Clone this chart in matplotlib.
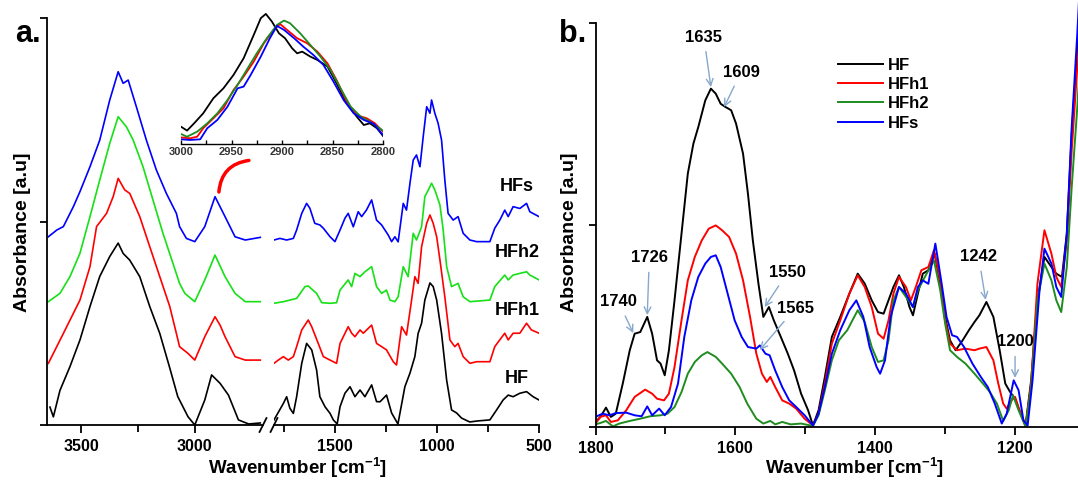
import matplotlib
matplotlib.use("Agg")
import matplotlib.pyplot as plt
from matplotlib.ticker import FixedLocator

plt.rcParams['font.family'] = ['Liberation Sans', 'DejaVu Sans']
plt.rcParams['font.weight'] = 'bold'
plt.rcParams['mathtext.default'] = 'regular'

# ---------------- panel a: O-H / C-H region (left part of broken axis)
a_hf_oh_wn = [3637, 3622, 3593, 3549, 3505, 3461, 3418, 3374, 3337, 3315, 3286, 3242, 3198,
              3154, 3110, 3075, 3030, 3000, 2956, 2926, 2889, 2852, 2808, 2763, 2712]
a_hf_oh_ab = [8.8, 4, 17, 28.7, 41.8, 58.2, 73, 82.8, 89.4, 84.3, 81, 72.9, 58.2,
              45, 28, 14, 4.1, 0, 12.3, 24.6, 20.5, 14.7, 2.5, 0.5, 1]
a_h1_oh_wn = [3644, 3578, 3505, 3461, 3432, 3388, 3359, 3337, 3308, 3286, 3242, 3198, 3154,
              3110, 3081, 3067, 3030, 3000, 2956, 2911, 2889, 2867, 2823, 2778, 2712]
a_h1_oh_ab = [30.3, 45, 61.4, 77.8, 97.5, 104, 112.2, 121.2, 115.5, 113.8, 102.4, 87.6, 72.9,
              58.2, 45, 38.5, 35.2, 31.9, 43.4, 53.2, 49.1, 43.4, 33.6, 31.9, 31.9]
a_h2_oh_wn = [3644, 3593, 3549, 3505, 3461, 3418, 3374, 3337, 3301, 3271, 3228, 3184, 3140,
              3096, 3067, 3044, 3000, 2956, 2911, 2867, 2823, 2778, 2712]
a_h2_oh_ab = [60.6, 64.7, 72.9, 84.4, 102.4, 120.4, 138.4, 151.5, 146.6, 140, 127, 110.6, 94.2,
              79.4, 69.6, 64.7, 60.6, 71.3, 83.5, 72.9, 64.7, 60.6, 60.6]
a_hs_oh_wn = [3644, 3607, 3578, 3534, 3505, 3461, 3418, 3374, 3337, 3315, 3293, 3257, 3213,
              3169, 3125, 3081, 3067, 3037, 3000, 2956, 2911, 2867, 2823, 2778, 2712]
a_hs_oh_ab = [92.5, 95.8, 97.5, 107.3, 114.7, 126.9, 140, 159.7, 173.6, 167.9, 169.5, 156.4, 140,
              125.3, 113.8, 104, 97.5, 91.7, 90.1, 97.5, 112.2, 102.4, 92.5, 90.9, 92.2]

# ---------------- panel a: fingerprint region (right part of broken axis)
a_hf_fp_wn = [1800, 1754, 1738, 1722, 1705, 1689, 1664, 1640, 1615, 1591, 1575, 1550, 1525,
              1509, 1490, 1476, 1452, 1427, 1403, 1378, 1354, 1321, 1297, 1280, 1248, 1223,
              1192, 1158, 1133, 1109, 1093, 1076, 1060, 1035, 1019, 1002, 978, 953, 929, 904,
              880, 840, 800, 741, 708, 676, 651, 627, 594, 561, 529, 500]
a_hf_fp_ab = [2.5, 10.6, 13.9, 8.2, 5.7, 13.9, 30.3, 40.1, 36.9, 27, 13.9, 9, 5.7,
              2.5, 0.5, 9, 15.6, 18.8, 13.9, 17.2, 13.9, 19.7, 11.5, 11.4, 14.7, 5.9,
              0.5, 18.8, 25.5, 33.6, 45, 50, 61.4, 69.8, 68, 61.4, 45, 22, 7.4, 5.9,
              3.4, 1.5, 2, 2.5, 7.4, 12.3, 14.7, 13.9, 15.6, 16.4, 13.9, 12.3]
a_h1_fp_wn = [1800, 1779, 1754, 1730, 1705, 1689, 1664, 1632, 1615, 1583, 1558, 1525, 1493,
              1476, 1436, 1419, 1403, 1378, 1362, 1321, 1297, 1272, 1248, 1215, 1199, 1174,
              1150, 1125, 1109, 1093, 1076, 1051, 1035, 1019, 1002, 986, 962, 937, 913, 897,
              872, 839, 806, 741, 717, 668, 651, 627, 594, 561, 537, 500]
a_h1_fp_ab = [30.3, 31.9, 33.6, 31.9, 33.6, 38.5, 46.7, 51.6, 48.3, 40.1, 33.6, 31.9, 30.3,
              40.1, 48.3, 45.1, 43.4, 46.7, 45.1, 49.1, 40.1, 38.5, 36.9, 31.1, 29.5, 48.3,
              44.2, 61.4, 72.9, 69.6, 87.6, 99.1, 103.2, 99.1, 92.5, 81.1, 63, 41.8, 38.5, 40.1,
              33.6, 30.3, 31.1, 31.1, 38.5, 45.1, 41.8, 45.1, 45.1, 50, 46.7, 45.1]
a_h2_fp_wn = [1800, 1754, 1689, 1648, 1632, 1591, 1566, 1525, 1493, 1476, 1436, 1419, 1403,
              1378, 1354, 1321, 1297, 1272, 1248, 1231, 1207, 1191, 1166, 1142, 1117, 1101,
              1076, 1060, 1043, 1027, 1011, 986, 970, 953, 929, 897, 872, 839, 741, 717,
              668, 651, 627, 561, 545, 500]
a_h2_fp_ab = [59.8, 60.6, 62.2, 68, 68.3, 64.7, 60.1, 59.8, 60.1, 66.3, 71.3, 68, 74.5,
              72.9, 75.3, 77.8, 68, 64.7, 66.3, 61.4, 60.6, 63, 77.8, 72.9, 94.2, 90.9,
              97.4, 112.2, 115.5, 118.8, 115.5, 108.1, 95.8, 77.8, 68, 69.6, 63, 60.6, 61.4, 68,
              73.7, 71.3, 73.7, 75.3, 73.7, 71.3]
a_hs_fp_wn = [1800, 1771, 1738, 1705, 1689, 1664, 1640, 1624, 1600, 1575, 1558, 1525, 1501,
              1476, 1452, 1436, 1411, 1387, 1370, 1346, 1321, 1297, 1272, 1240, 1223, 1207,
              1191, 1166, 1150, 1133, 1117, 1101, 1084, 1068, 1051, 1035, 1027, 1011, 995, 978,
              962, 946, 921, 897, 872, 839, 806, 741, 717, 692, 668, 651, 627, 594, 561, 545, 500]
a_hs_fp_ab = [90.9, 91.7, 90.9, 91.7, 95.8, 104, 108.9, 106.5, 99.1, 98.3, 96.7, 92.5, 90.1,
              95.8, 101.6, 104, 97.4, 104.8, 102.4, 105.7, 110.6, 100.7, 98.3, 93.4, 90.1, 92.5,
              90, 108.9, 105.6, 118.8, 130.2, 132.7, 126.9, 141.7, 156.4, 153.2, 159.7, 153.2, 148.3, 140,
              120.4, 104, 100.7, 102.4, 94.2, 90.9, 90.1, 90.1, 96.7, 100.7, 105.6, 102.4, 107.3, 106.4,
              108.9, 104.8, 102.4]

# ---------------- inset: C-H stretch
in_hf_wn = [3000, 2994, 2987, 2978, 2968, 2958, 2948, 2938, 2928, 2921, 2916, 2910, 2903, 2897,
            2890, 2885, 2880, 2872, 2865, 2855, 2846, 2836, 2826, 2819, 2813, 2806, 2800]
in_hf_ab = [13.3, 10.3, 15.9, 23.6, 35.1, 42.8, 53.1, 65.9, 83.8, 96.7, 100, 94.1, 85.1, 81.3,
            73.6, 69.7, 71, 67.2, 64.6, 59.5, 46.7, 31.3, 21, 14.6, 15.9, 12.1, 6.2]
in_h1_wn = [3000, 2991, 2984, 2978, 2968, 2958, 2948, 2938, 2928, 2918, 2908, 2902, 2895, 2885,
            2875, 2865, 2855, 2846, 2836, 2826, 2816, 2808, 2800]
in_h1_ab = [5.1, 4.4, 5.6, 12.1, 19.7, 27.4, 41.5, 51.8, 63.3, 77.4, 87.7, 92.3, 87.7, 81.3,
            77.4, 71, 62, 49.2, 32.6, 22.3, 19.7, 15.9, 9.5]
in_h2_wn = [3000, 2994, 2984, 2974, 2964, 2954, 2944, 2935, 2925, 2915, 2905, 2898, 2892, 2882,
            2872, 2862, 2852, 2842, 2832, 2822, 2813, 2800]
in_h2_ab = [7.7, 5.6, 9.5, 15.9, 23.6, 33.8, 45.4, 56.9, 69.7, 81.3, 91.5, 94.9, 92.8, 85.1,
            76.2, 67.2, 56.9, 42.8, 28.7, 21, 17.2, 10.3]
in_hs_wn = [3000, 2991, 2981, 2974, 2964, 2954, 2944, 2938, 2931, 2921, 2912, 2905, 2898, 2888,
            2879, 2869, 2859, 2849, 2839, 2829, 2819, 2809, 2800]
in_hs_ab = [3.6, 3.1, 3.6, 12.1, 18.5, 28.7, 42.8, 44.1, 53.1, 67.2, 81.3, 90.8, 87.7, 81.3,
            74.9, 68.5, 60.8, 47.9, 33.8, 23.6, 18.5, 15.4, 6.9]

# ---------------- panel b: 1800-1110 cm-1
b_hf_wn = [1800, 1793, 1785, 1778, 1771, 1761, 1751, 1744, 1736, 1726, 1719, 1712, 1707, 1701,
           1695, 1687, 1677, 1668, 1660, 1653, 1643, 1635, 1628, 1621, 1614, 1606, 1599, 1589,
           1582, 1575, 1567, 1560, 1552, 1545, 1535, 1525, 1516, 1506, 1496, 1489, 1481, 1472,
           1462, 1450, 1437, 1425, 1415, 1405, 1396, 1388, 1381, 1374, 1366, 1359, 1351, 1346,
           1339, 1332, 1324, 1315, 1307, 1300, 1293, 1285, 1275, 1266, 1258, 1251, 1241, 1231,
           1222, 1214, 1207, 1200, 1192, 1185, 1177, 1168, 1158, 1148, 1141, 1133, 1126, 1119,
           1111, 1108]
b_hf_ab = [2.5, 5, 9.6, 5, 6.6, 21.5, 38, 46.2, 47, 54.5, 46.2, 33, 31.4, 25.6,
           38, 62.7, 95.7, 125.4, 140.3, 148.5, 161.7, 167.5, 165, 160, 158.4, 156.8, 150.2, 135.3,
           115.5, 92.4, 71, 54.5, 59.4, 52.8, 44.6, 36.3, 28, 16.5, 8.3, 0.8, 8.3, 24.8,
           44.6, 54.5, 66, 75.9, 71, 62.7, 56.9, 56.1, 62.7, 69.3, 75.1, 69.3, 59.4, 55.3,
           66, 75.9, 77.6, 85.8, 71, 54.5, 42.9, 38, 42.9, 47.9, 52, 55.3, 61.9, 54.5,
           38, 21.5, 17.3, 14, 6.6, 0.8, 23.1, 62.7, 84.2, 79.2, 75.9, 74.3, 95.7, 145.2,
           186.5, 200]
b_h1_wn = [1800, 1793, 1785, 1778, 1768, 1756, 1744, 1729, 1719, 1712, 1702, 1695, 1687, 1677,
           1668, 1658, 1648, 1638, 1628, 1619, 1609, 1599, 1589, 1579, 1570, 1562, 1555, 1550,
           1543, 1533, 1523, 1513, 1501, 1489, 1481, 1472, 1462, 1450, 1437, 1425, 1415, 1405,
           1396, 1388, 1381, 1374, 1366, 1356, 1349, 1342, 1334, 1324, 1316, 1307, 1300, 1293,
           1283, 1271, 1258, 1251, 1241, 1231, 1224, 1217, 1212, 1205, 1200, 1192, 1185, 1177,
           1168, 1158, 1148, 1141, 1134, 1126, 1119, 1111, 1108]
b_h1_ab = [1.7, 5, 5.8, 2.5, 3.3, 8.3, 14.9, 18.5, 16.5, 14, 13.2, 16.5, 29.7, 52.8,
           72.6, 84.2, 92.4, 98.2, 99.8, 97.4, 94.1, 85.8, 72.6, 54.5, 36.3, 26.4, 22.3, 24.8,
           19.8, 13.2, 11.6, 9.1, 4.1, 0.8, 6.6, 21.5, 41.3, 52.8, 66, 75.1, 69.3, 59.4,
           46.2, 43.7, 52.8, 66, 74.3, 69.3, 62.7, 69.3, 77.6, 79.2, 87.5, 72.6, 52.8, 41.3,
           38, 38.8, 38, 38.8, 39.6, 33, 21.5, 11.6, 9.1, 13.2, 14.9, 6.6, 0.3, 21.5,
           71, 97.4, 85.8, 74.3, 69.3, 92.4, 137, 178, 192]
b_h2_wn = [1800, 1793, 1785, 1775, 1766, 1751, 1736, 1722, 1707, 1697, 1687, 1677, 1668, 1658,
           1648, 1640, 1628, 1619, 1606, 1594, 1583, 1570, 1560, 1550, 1543, 1533, 1521, 1506,
           1489, 1481, 1472, 1462, 1452, 1440, 1425, 1415, 1405, 1396, 1388, 1381, 1374, 1366,
           1356, 1346, 1339, 1329, 1316, 1307, 1300, 1293, 1283, 1271, 1258, 1246, 1236, 1226,
           1217, 1209, 1203, 1195, 1185, 1177, 1168, 1158, 1148, 1141, 1134, 1126, 1119, 1111,
           1108]
b_h2_ab = [1.3, 2, 3, 0.3, 1.7, 3, 4.1, 5.3, 5.8, 6.6, 9.9, 17.3, 26.4, 32.2,
           35.5, 37.1, 34.7, 31.4, 26.4, 19.8, 11.6, 4.1, 1.7, 3, 1.3, 2.5, 1.3, 1.7,
           0.5, 5.8, 18.2, 33, 42.9, 47.9, 57.8, 52, 39.6, 32.2, 33, 42.9, 62.7, 69.3,
           64.4, 59.4, 67.7, 74.3, 82.5, 67.7, 51.2, 38, 34.7, 31.4, 26.4, 21.5, 17.3, 11.6,
           3, 8.3, 15.7, 8.3, 0.3, 19.8, 62.7, 80.9, 72.6, 62.7, 56.9, 79.2, 118.8, 158.4,
           176]
b_hs_wn = [1800, 1790, 1780, 1771, 1756, 1744, 1734, 1726, 1719, 1709, 1701, 1692, 1682, 1673,
           1663, 1653, 1643, 1635, 1628, 1621, 1611, 1601, 1591, 1582, 1570, 1565, 1557, 1551,
           1543, 1533, 1523, 1513, 1501, 1489, 1481, 1472, 1462, 1450, 1437, 1427, 1417, 1408,
           1398, 1393, 1386, 1378, 1366, 1356, 1346, 1339, 1332, 1324, 1314, 1305, 1298, 1290,
           1283, 1273, 1261, 1249, 1239, 1229, 1219, 1212, 1202, 1195, 1188, 1182, 1175, 1165,
           1158, 1148, 1141, 1134, 1126, 1119, 1111, 1108]
b_hs_ab = [5, 6.6, 5.8, 6.9, 7.1, 5.8, 5.3, 10.2, 5.8, 9.1, 5.8, 9.9, 21.5, 44.6,
           62.7, 74.3, 80.9, 84.2, 85, 79.2, 66, 52.8, 44.6, 39.6, 38.8, 40.4, 36.3, 35.5,
           28, 19.8, 13.2, 9.9, 5.8, 0.8, 6.6, 19.8, 36.3, 47.9, 57.8, 62.7, 54.5, 39.6,
           29.7, 26.4, 33, 54.5, 69.3, 66, 59.4, 69.3, 72.6, 70.9, 90.8, 71, 54.5, 45.4,
           44.6, 39.6, 31.4, 24.8, 19.8, 11.6, 1.7, 6.6, 23.1, 18.2, 3.3, 0.8, 23.1, 67.7,
           88.3, 80.9, 69.3, 64.4, 95.7, 148.5, 194.7, 215]

names = ['HF', 'HFh1', 'HFh2', 'HFs']
peaks_b = [('1740', 1746, 46.5, 1767, 61.9), ('1726', 1726, 55.4, 1723, 83.7),
           ('1635', 1635, 168.3, 1645, 193), ('1609', 1616, 158.4, 1592, 175.7),
           ('1550', 1558, 59.4, 1525, 76.7), ('1565', 1565, 38.1, 1514, 58.9),
           ('1242', 1242, 62.9, 1252, 84.2), ('1200', 1200, 24.3, 1200, 42.1)]

col_a = ['black', '#ff0000', '#16e016', '#0000ff']
col_b = ['black', '#ff0000', '#1e8c1e', '#0000ff']

W, H = 1078, 480
fig = plt.figure(figsize=(W / 100, H / 100), dpi=100)


def rect(x0, y0, x1, y1):
    # pixel box measured from the top-left corner -> figure fraction
    return [x0 / W, 1 - y1 / H, (x1 - x0) / W, (y1 - y0) / H]


def style(ax, left=True):
    for s in ['top', 'right']:
        ax.spines[s].set_visible(False)
    ax.spines['left'].set_visible(left)
    for s in ['left', 'bottom']:
        ax.spines[s].set_linewidth(1.3)
    ax.tick_params(axis='x', which='major', direction='out', length=6, width=1.3,
                   labelsize=11.5, pad=4)
    ax.tick_params(axis='x', which='minor', direction='out', length=5, width=1.3)
    ax.tick_params(axis='y', which='both', direction='out', length=5, width=1.3,
                   labelleft=False, left=left)


# ---- panel a (broken x axis)
ax_hi = fig.add_axes(rect(47, 18, 263, 425))
ax_lo = fig.add_axes(rect(274, 18, 539, 425))
oh = [(a_hf_oh_wn, a_hf_oh_ab), (a_h1_oh_wn, a_h1_oh_ab), (a_h2_oh_wn, a_h2_oh_ab), (a_hs_oh_wn, a_hs_oh_ab)]
fp = [(a_hf_fp_wn, a_hf_fp_ab), (a_h1_fp_wn, a_h1_fp_ab), (a_h2_fp_wn, a_h2_fp_ab), (a_hs_fp_wn, a_hs_fp_ab)]
for (x, y), c in zip(oh, col_a):
    ax_hi.plot(x, y, color=c, lw=1.2)
for (x, y), c in zip(fp, col_a):
    ax_lo.plot(x, y, color=c, lw=1.2)

ax_hi.set_xlim(3650, 2700)
ax_lo.set_xlim(1800, 500)
for ax in (ax_hi, ax_lo):
    ax.set_ylim(0, 200)
    ax.set_yticks([0, 100, 200])
ax_hi.set_xticks([3500, 3000])
ax_hi.xaxis.set_minor_locator(FixedLocator([3250]))
ax_lo.set_xticks([1500, 1000, 500])
ax_lo.xaxis.set_minor_locator(FixedLocator([1750, 1250, 750]))
style(ax_hi)
style(ax_lo, left=False)

# break marks
kw = dict(color='black', lw=1.3, clip_on=False)
ax_hi.plot([1 - 0.016, 1 + 0.016], [-0.017, 0.017], transform=ax_hi.transAxes, **kw)
ax_lo.plot([-0.013, 0.013], [-0.017, 0.017], transform=ax_lo.transAxes, **kw)

for name, yv in zip(names, [23, 56.5, 85, 117]):
    ax_lo.text(608, yv, name, ha='center', va='center', fontsize=13)

ax_hi.annotate('', xy=(2762, 130), xytext=(2894, 114.5),
               arrowprops=dict(arrowstyle='-', connectionstyle='arc3,rad=-0.4',
                               color='red', lw=2.5, shrinkA=0, shrinkB=0))

# ---- inset
ax_in = fig.add_axes(rect(181, 10, 383, 144))
ins = [(in_hf_wn, in_hf_ab), (in_h1_wn, in_h1_ab), (in_h2_wn, in_h2_ab), (in_hs_wn, in_hs_ab)]
for (x, y), c in zip(ins, col_b):
    ax_in.plot(x, y, color=c, lw=1.3)
ax_in.set_xlim(3000, 2800)
ax_in.set_ylim(0, 103)
ax_in.set_xticks([3000, 2950, 2900, 2850, 2800])
ax_in.xaxis.set_minor_locator(FixedLocator([2975, 2925, 2875, 2825]))
ax_in.set_yticks([])
for s in ['top', 'right', 'left']:
    ax_in.spines[s].set_visible(False)
ax_in.spines['bottom'].set_linewidth(1.0)
ax_in.tick_params(axis='x', which='both', direction='in', length=3, width=1,
                  labelsize=8, pad=2, labelcolor='#333333')
ax_in.patch.set_alpha(0)

# ---- panel b
ax_b = fig.add_axes(rect(595.5, 0, 1078, 427))
series_b = [(b_hf_wn, b_hf_ab), (b_h1_wn, b_h1_ab), (b_h2_wn, b_h2_ab), (b_hs_wn, b_hs_ab)]
lines = []
for (x, y), c, n in zip(series_b, col_b, names):
    ln, = ax_b.plot(x, y, color=c, lw=1.4, label=n)
    lines.append(ln)
ax_b.set_xlim(1800, 1110)
ax_b.set_ylim(0, 200 * 427 / 404)
ax_b.set_yticks([0, 100, 200])
ax_b.set_xticks([1800, 1600, 1400, 1200])
ax_b.xaxis.set_minor_locator(FixedLocator([1700, 1500, 1300]))
style(ax_b)
ax_b.spines['left'].set_bounds(0, 200)

for lab, x, y, tx, ty in peaks_b:
    ax_b.annotate(lab, xy=(x, y), xytext=(tx, ty), ha='center', va='center', fontsize=12,
                  arrowprops=dict(arrowstyle='->', color='#86a8cc', lw=1.0,
                                  shrinkA=3, shrinkB=0))

ax_b.legend(handles=lines, loc='upper left', bbox_to_anchor=(838 / W, 1 - 58 / H),
            bbox_transform=fig.transFigure, frameon=False, fontsize=12,
            handlelength=2.7, handletextpad=0.3, labelspacing=0.25,
            borderpad=0, borderaxespad=0)

# ---- labels
for xc in (23, 569):
    fig.text(xc / W, 1 - 232 / H, 'Absorbance [a.u]', rotation=90, ha='center',
             va='center', fontsize=14)
for xc in (298, 855):
    fig.text(xc / W, 1 - 468 / H, 'Wavenumber [cm$^{-1}$]', ha='center',
             va='center', fontsize=13.5)
fig.text(28 / W, 1 - 34 / H, 'a.', ha='center', va='center', fontsize=22)
fig.text(573 / W, 1 - 34 / H, 'b.', ha='center', va='center', fontsize=22)

fig.savefig('out.png', dpi=100)
